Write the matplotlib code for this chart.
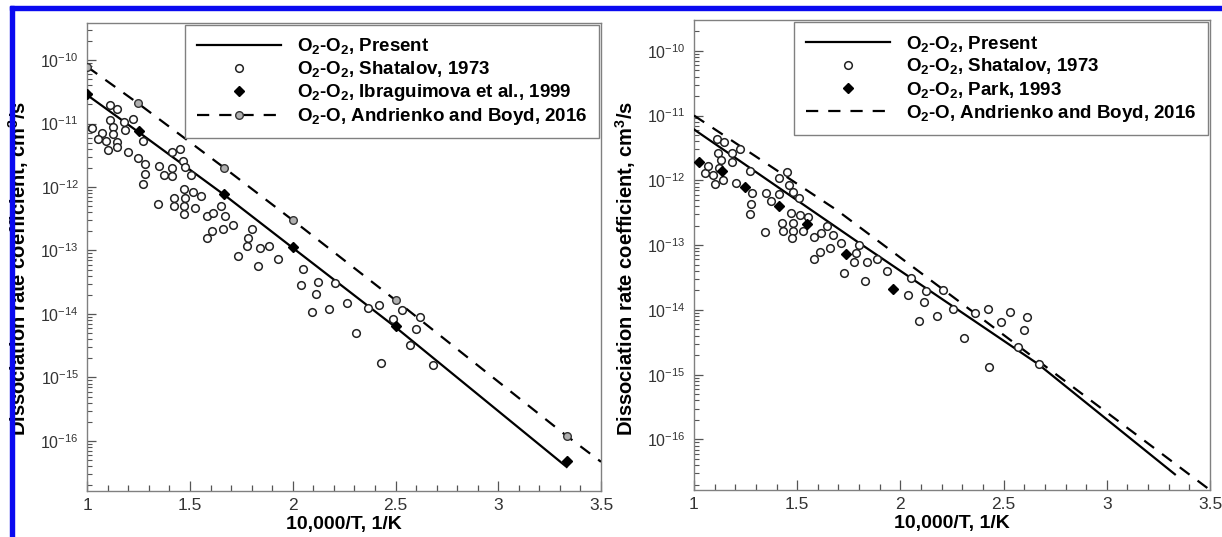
import matplotlib
matplotlib.use("Agg")
import matplotlib.pyplot as plt
from matplotlib.patches import Rectangle
from matplotlib.ticker import MultipleLocator, LogLocator, FixedLocator, NullFormatter, FixedFormatter

plt.rcParams['font.family'] = ['Liberation Sans', 'DejaVu Sans']
plt.rcParams['mathtext.fontset'] = 'custom'
plt.rcParams['mathtext.rm'] = 'Liberation Sans'
plt.rcParams['mathtext.default'] = 'regular'

# ---- data ----
xticks = [1, 1.5, 2, 2.5, 3, 3.5]
xtick_labels = ['1', '1.5', '2', '2.5', '3', '3.5']
ytick_exp = [-16, -15, -14, -13, -12, -11, -10]

# left panel
present_x_l = [1.0, 1.25, 1.667, 2.0, 2.5, 3.333]
present_y_l = [2.8e-11, 7.3e-12, 7.5e-13, 1.1e-13, 6.2e-15, 3.9e-17]

ibra_x = [1.0, 1.25, 1.667, 2.0, 2.5, 3.333]
ibra_y = [2.9e-11, 7.5e-12, 7.7e-13, 1.15e-13, 6.4e-15, 4.9e-17]

andr_x_l = [1.0, 1.245, 1.667, 2.0, 2.5, 3.333, 3.5]
andr_y_l = [7.8e-11, 2.1e-11, 2.0e-12, 3.0e-13, 1.65e-14, 1.2e-16, 4.7e-17]

shat_x_l = [1.021, 1.070, 1.050, 1.089, 1.110, 1.146, 1.110, 1.127, 1.123, 1.143,
            1.143, 1.102, 1.180, 1.224, 1.183, 1.273, 1.200, 1.245, 1.281, 1.281,
            1.273, 1.342, 1.349, 1.373, 1.411, 1.411, 1.411, 1.451, 1.464, 1.475,
            1.505, 1.472, 1.513, 1.552, 1.424, 1.475, 1.424, 1.472, 1.524, 1.471,
            1.581, 1.613, 1.649, 1.670, 1.581, 1.608, 1.659, 1.707, 1.800, 1.784,
            1.776, 1.840, 1.884, 1.732, 1.829, 1.930, 2.051, 2.124, 2.040, 2.113,
            2.205, 2.262, 2.175, 2.092, 2.364, 2.419, 2.308, 2.489, 2.530, 2.429,
            2.601, 2.617, 2.569, 2.681]
shat_y_l = [8.4e-12, 7.2e-12, 5.7e-12, 5.4e-12, 1.95e-11, 1.69e-11, 1.13e-11, 8.7e-12, 6.75e-12, 5.2e-12,
            4.2e-12, 3.8e-12, 1.07e-11, 1.18e-11, 7.9e-12, 5.3e-12, 3.5e-12, 2.9e-12, 2.3e-12, 1.58e-12,
            1.1e-12, 5.4e-13, 2.17e-12, 1.55e-12, 1.97e-12, 1.49e-12, 3.5e-12, 4.0e-12, 2.6e-12, 2.04e-12,
            1.55e-12, 9.3e-13, 8.2e-13, 7.3e-13, 6.6e-13, 6.8e-13, 5.1e-13, 5.1e-13, 4.7e-13, 3.7e-13,
            3.5e-13, 3.9e-13, 5.0e-13, 3.45e-13, 1.6e-13, 2.0e-13, 2.15e-13, 2.5e-13, 2.2e-13, 1.6e-13,
            1.18e-13, 1.11e-13, 1.19e-13, 8.2e-14, 5.7e-14, 7.4e-14, 5.2e-14, 3.15e-14, 2.86e-14, 2.1e-14,
            3.1e-14, 1.49e-14, 1.2e-14, 1.09e-14, 1.23e-14, 1.37e-14, 5.1e-15, 8.4e-15, 1.16e-14, 1.67e-15,
            5.8e-15, 9.1e-15, 3.2e-15, 1.6e-15]

# right panel
present_x_r = [1.0, 1.8, 2.667, 3.33]
present_y_r = [6.1e-12, 1.08e-13, 1.46e-15, 2.9e-17]

andr_x_r = [1.0, 1.69, 2.27, 3.5]
andr_y_r = [1.0e-11, 3.5e-13, 1.46e-14, 1.66e-17]

park_x = [1.026, 1.134, 1.247, 1.412, 1.546, 1.736, 1.966]
park_y = [1.94e-12, 1.39e-12, 7.97e-13, 4.0e-13, 2.1e-13, 7.4e-14, 2.1e-14]

shat_x_r = [1.053, 1.069, 1.090, 1.102, 1.113, 1.145, 1.118, 1.129, 1.123, 1.142,
            1.183, 1.183, 1.223, 1.203, 1.271, 1.279, 1.276, 1.271, 1.349, 1.371,
            1.344, 1.413, 1.452, 1.462, 1.413, 1.478, 1.510, 1.468, 1.514, 1.554,
            1.478, 1.425, 1.430, 1.478, 1.473, 1.527, 1.581, 1.614, 1.646, 1.672,
            1.711, 1.581, 1.610, 1.659, 1.801, 1.785, 1.775, 1.840, 1.885, 1.728,
            1.828, 1.933, 2.050, 2.038, 2.124, 2.114, 2.208, 2.092, 2.176, 2.256,
            2.308, 2.361, 2.423, 2.486, 2.531, 2.612, 2.600, 2.568, 2.431, 2.672]
shat_y_r = [1.28e-12, 1.66e-12, 1.21e-12, 8.8e-13, 4.4e-12, 3.95e-12, 2.6e-12, 2.06e-12, 1.53e-12, 1.01e-12,
            2.6e-12, 1.94e-12, 3.0e-12, 9.0e-13, 1.41e-12, 6.3e-13, 4.26e-13, 3.0e-13, 6.45e-13, 4.8e-13,
            1.61e-13, 1.1e-12, 1.33e-12, 8.5e-13, 6.1e-13, 6.7e-13, 5.3e-13, 3.16e-13, 2.9e-13, 2.7e-13,
            2.2e-13, 2.17e-13, 1.67e-13, 1.67e-13, 1.27e-13, 1.67e-13, 1.35e-13, 1.56e-13, 2.0e-13, 1.43e-13,
            1.09e-13, 6.2e-14, 7.9e-14, 9.1e-14, 1.0e-13, 7.5e-14, 5.55e-14, 5.4e-14, 6.0e-14, 3.7e-14,
            2.8e-14, 4.0e-14, 3.07e-14, 1.7e-14, 1.98e-14, 1.34e-14, 2.03e-14, 6.8e-15, 8.05e-15, 1.02e-14,
            3.7e-15, 9.06e-15, 1.02e-14, 6.6e-15, 9.4e-15, 7.7e-15, 4.9e-15, 2.7e-15, 1.33e-15, 1.45e-15]

W, H = 1222, 537
fig = plt.figure(figsize=(W / 100, H / 100), dpi=100)

# blue frame (top and left edges)
fig.patches.append(Rectangle((10 / W, 1 - 10 / H), 1 - 10 / W, 4 / H,
                             transform=fig.transFigure, color='#0a0af0', zorder=0))
fig.patches.append(Rectangle((10 / W, 0), 4 / W, 1 - 6 / H,
                             transform=fig.transFigure, color='#0a0af0', zorder=0))

ax1 = fig.add_axes([87.3 / W, 1 - 491 / H, (601 - 87.3) / W, (491 - 22.7) / H])
ax2 = fig.add_axes([694 / W, 1 - 490 / H, (1210 - 694) / W, (490 - 20) / H])

open_kw = dict(ls='none', marker='o', ms=5.5, mfc='white', mec='#222222', mew=1.1)
dia_kw = dict(ls='none', marker='D', ms=5.5, mfc='black', mec='black')

# left panel
ax1.plot(present_x_l, present_y_l, color='black', lw=1.6, label=r'O$_2$-O$_2$, Present', zorder=3)
ax1.plot(shat_x_l, shat_y_l, label=r'O$_2$-O$_2$, Shatalov, 1973', zorder=4, **open_kw)
ax1.plot(ibra_x, ibra_y, label=r'O$_2$-O$_2$, Ibraguimova et al., 1999', zorder=5, **dia_kw)
ax1.plot(andr_x_l, andr_y_l, color='black', lw=1.6, dashes=(5.5, 4.5), marker='o', ms=5.5,
         mfc='#b0b0b0', mec='#333333', mew=1.0, markevery=list(range(6)),
         label=r'O$_2$-O, Andrienko and Boyd, 2016', zorder=3)
ax1.set_ylim(1.63e-17, 3.87e-10)

# right panel
ax2.plot(present_x_r, present_y_r, color='black', lw=1.6, label=r'O$_2$-O$_2$, Present', zorder=3)
ax2.plot(shat_x_r, shat_y_r, label=r'O$_2$-O$_2$, Shatalov, 1973', zorder=4, **open_kw)
ax2.plot(park_x, park_y, label=r'O$_2$-O$_2$, Park, 1993', zorder=5, **dia_kw)
ax2.plot(andr_x_r, andr_y_r, color='black', lw=1.6, dashes=(5.5, 4.5),
         label=r'O$_2$-O, Andrienko and Boyd, 2016', zorder=3)
ax2.set_ylim(1.66e-17, 2.98e-10)

for ax, ylx in ((ax1, 31 / W), (ax2, 638 / W)):
    ax.set_yscale('log')
    ax.set_xlim(1, 3.5)
    ax.xaxis.set_major_locator(FixedLocator(xticks))
    ax.xaxis.set_major_formatter(FixedFormatter(xtick_labels))
    ax.xaxis.set_minor_locator(MultipleLocator(0.1))
    ax.yaxis.set_major_locator(FixedLocator([10.0 ** e for e in ytick_exp]))
    ax.yaxis.set_major_formatter(FixedFormatter([r'10$^{%d}$' % e for e in ytick_exp]))
    ax.yaxis.set_minor_locator(LogLocator(base=10, subs=range(2, 10), numticks=30))
    ax.yaxis.set_minor_formatter(NullFormatter())
    ax.tick_params(which='both', direction='in', colors='#555555', labelcolor='#333333',
                   top=False, right=False)
    ax.tick_params(axis='x', which='major', length=7.5, width=0.9, labelsize=12.5, pad=5)
    ax.tick_params(axis='x', which='minor', length=4, width=0.9)
    ax.tick_params(axis='y', which='major', length=6.5, width=0.9, labelsize=11.5, pad=6)
    ax.tick_params(axis='y', which='minor', length=3.8, width=0.8)
    for s in ax.spines.values():
        s.set_color('#808080')
        s.set_linewidth(1.0)
    ax.set_xlabel('10,000/T, 1/K', fontsize=14, fontweight='bold', labelpad=2)
    ax.set_ylabel(r'Dissociation rate coefficient, cm$^3$/s', fontsize=14.5, fontweight='bold')
    ax.yaxis.set_label_coords(ylx, 0.5, transform=fig.transFigure)
    leg = ax.legend(loc='upper right', frameon=True, fancybox=False, edgecolor='#808080',
                    framealpha=1, handlelength=4.5, handletextpad=0.85, labelspacing=0.16,
                    borderpad=0.6, borderaxespad=0.12,
                    prop={'weight': 'bold', 'size': 13.5})
    leg.get_frame().set_linewidth(1.0)

fig.savefig('out.png', dpi=100)
